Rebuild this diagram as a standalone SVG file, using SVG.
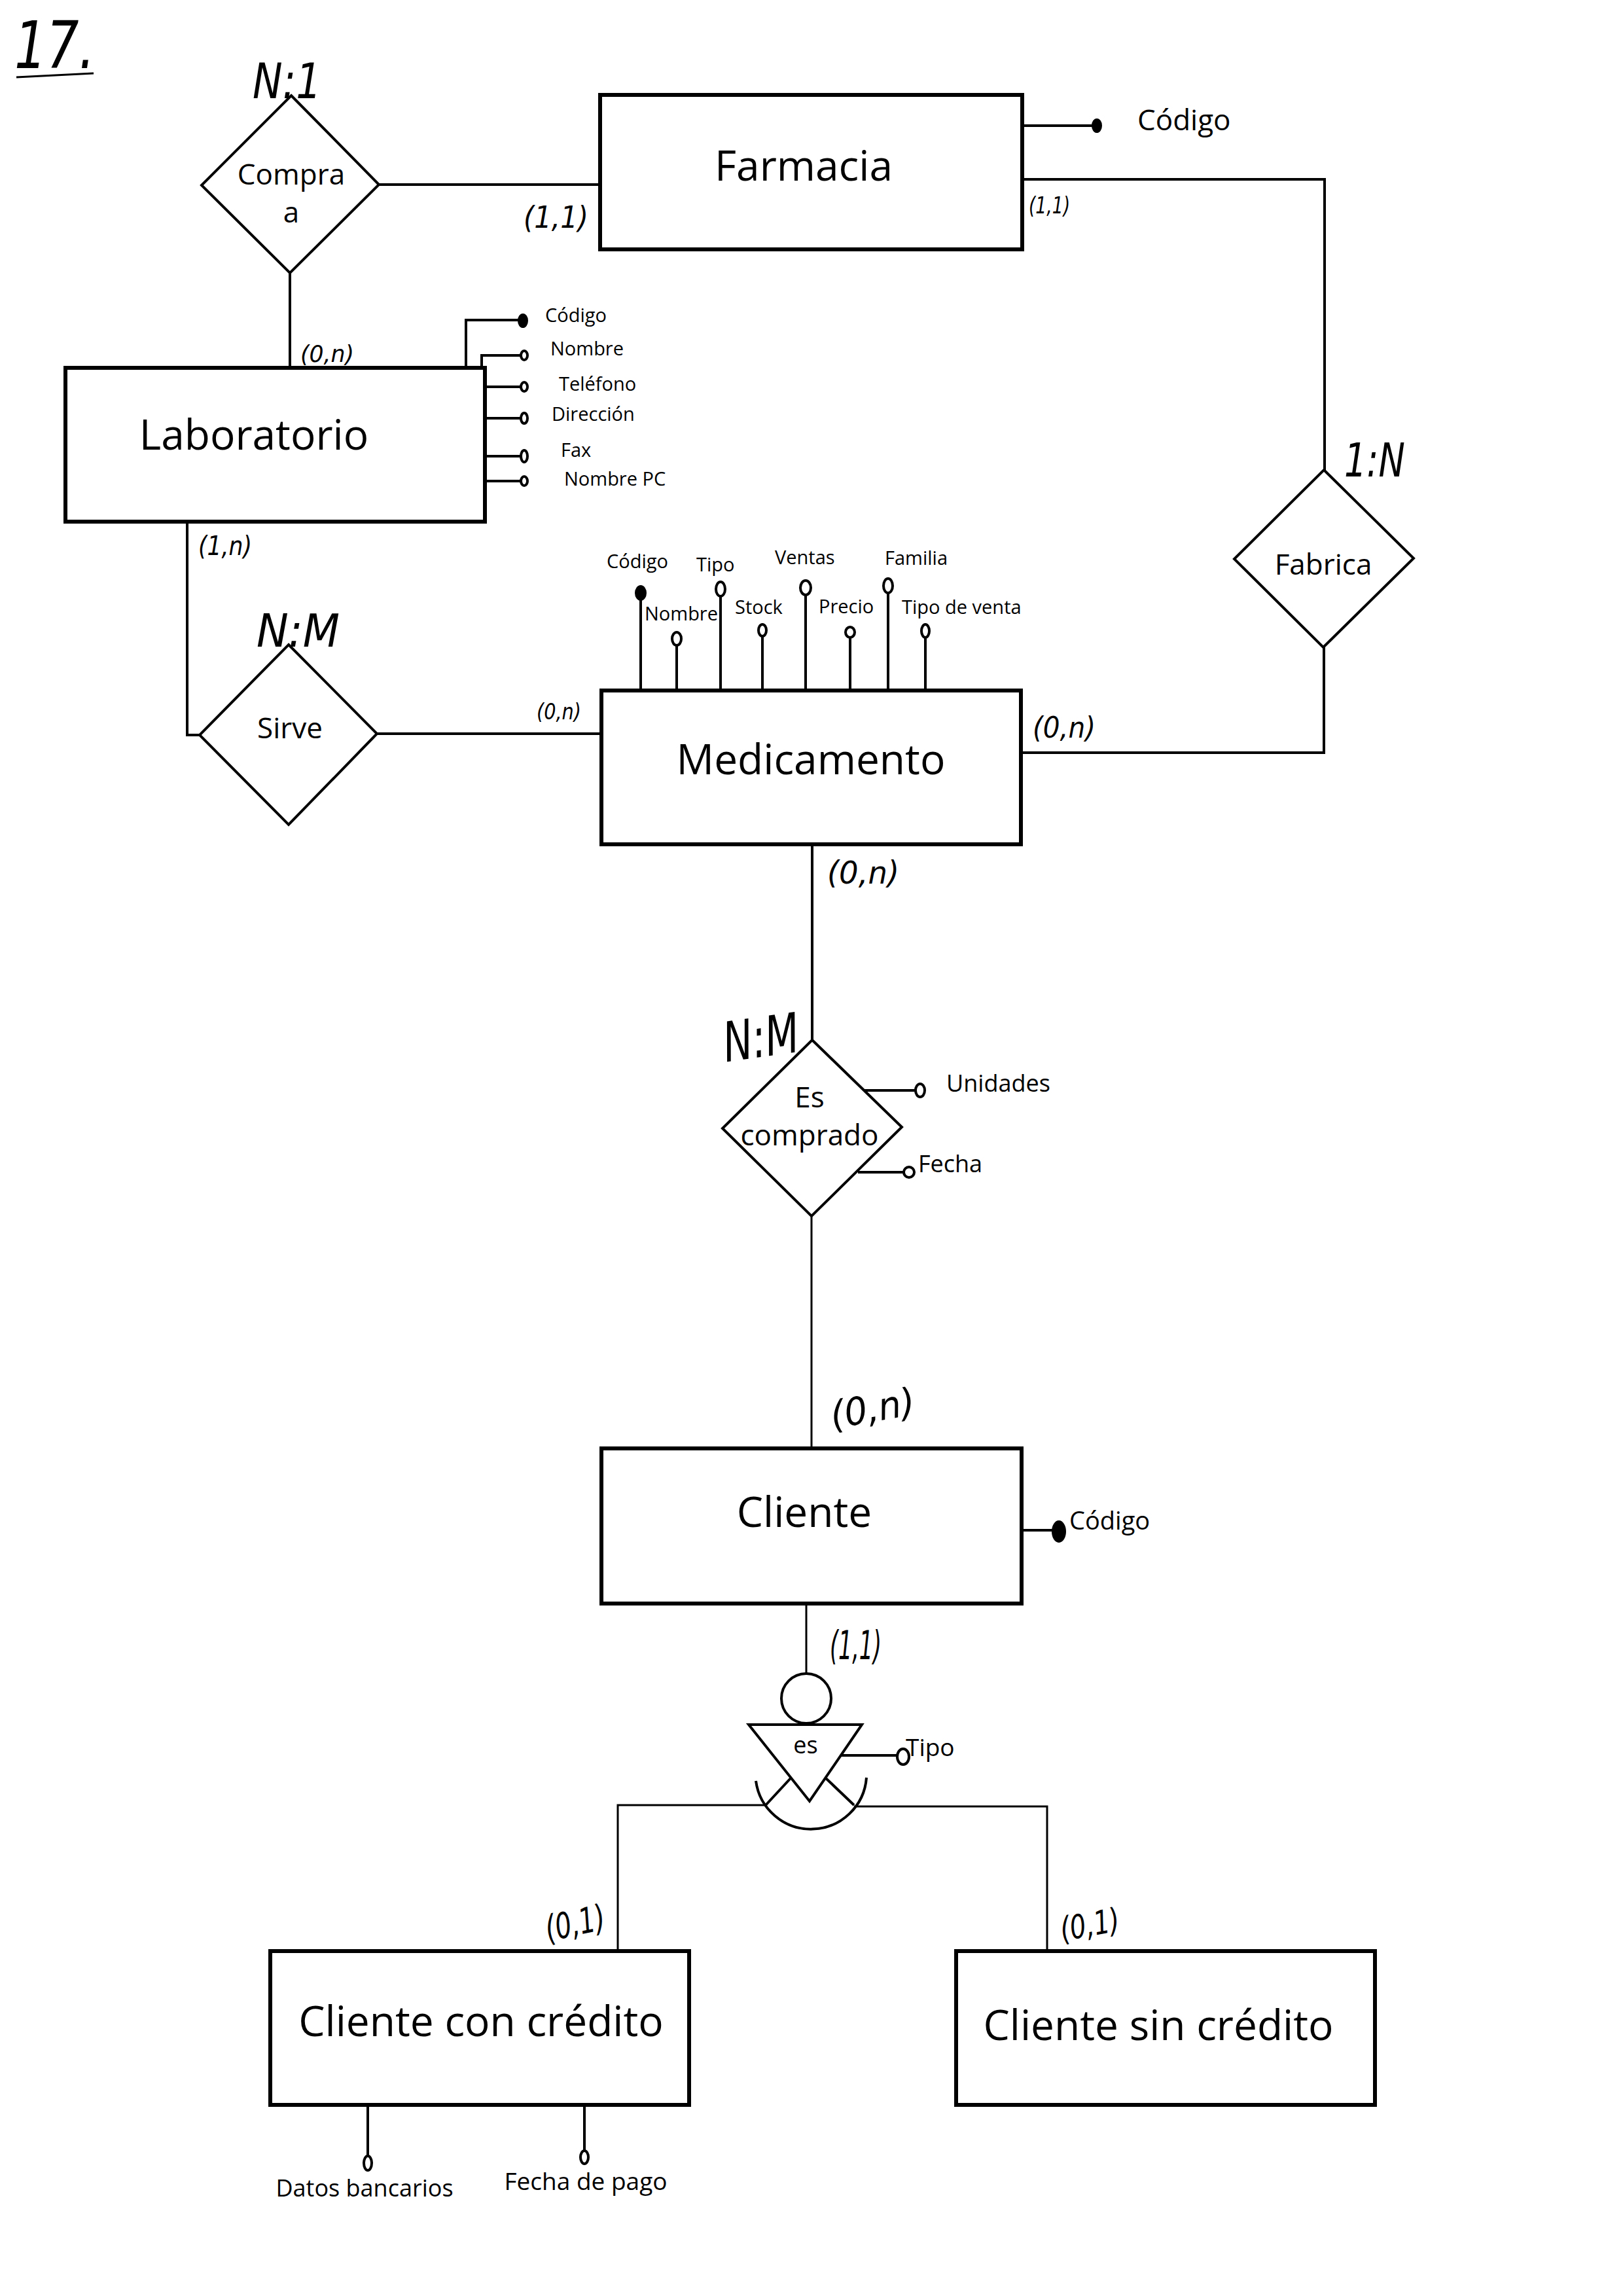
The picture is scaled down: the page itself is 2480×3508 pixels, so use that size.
<svg xmlns="http://www.w3.org/2000/svg" width="2480" height="3508" viewBox="0 0 2480 3508">
<style>
.bg{fill:#fff}
.ent{fill:none;stroke:#000;stroke-width:6;stroke-linejoin:miter}
.rel{fill:none;stroke:#000;stroke-width:4;stroke-linejoin:miter}
.con{fill:none;stroke:#000;stroke-width:4}
.thin{fill:none;stroke:#000;stroke-width:3}
.att{fill:none;stroke:#000;stroke-width:4}
.oc{fill:#fff;stroke:#000;stroke-width:4}
.fc{fill:#000;stroke:#000;stroke-width:2}
text{font-family:"Open Sans","Noto Sans","DejaVu Sans",sans-serif;fill:#000}
.en{font-size:64px;text-anchor:middle}
.rn{font-size:44px;text-anchor:middle}
.sa{font-size:29px}
.ma{font-size:36px}
.hand{font-family:"DejaVu Sans","Liberation Sans",sans-serif;font-style:italic;font-weight:300}
</style>
<rect class="bg" x="0" y="0" width="2480" height="3508"/>

<g id="title">
<text class="hand" x="22" y="104" font-size="100" textLength="123" lengthAdjust="spacingAndGlyphs">17.</text>
<path class="thin" d="M25,118 L143,112"/>
</g>

<g id="connectors">
<path class="con" d="M579,282 H917"/>
<path class="con" d="M443,417 V562"/>
<path class="con" d="M1562,274 H2024 V718"/>
<path class="con" d="M2023,989 V1150 H1560"/>
<path class="con" d="M286,797 V1123 H305"/>
<path class="con" d="M576,1121 H919"/>
<path class="con" d="M1241,1290 V1589"/>
<path class="thin" d="M1240,1858 V2213"/>
<path class="thin" d="M1232,2450 V2557"/>
<path class="thin" d="M1170,2758 H944 V2981"/>
<path class="thin" d="M1305,2760 H1600 V2981"/>
</g>

<g id="cardinalities">
<text class="hand" x="386" y="150" font-size="74" textLength="105" lengthAdjust="spacingAndGlyphs">N:1</text>
<text class="hand" x="800" y="348" font-size="46" textLength="99" lengthAdjust="spacingAndGlyphs">(1,1)</text>
<text class="hand" x="1572" y="326" font-size="36" textLength="63" lengthAdjust="spacingAndGlyphs">(1,1)</text>
<text class="hand" x="459" y="553" font-size="36" textLength="82" lengthAdjust="spacingAndGlyphs">(0,n)</text>
<text class="hand" x="303" y="848" font-size="40" textLength="82" lengthAdjust="spacingAndGlyphs">(1,n)</text>
<text class="hand" x="392" y="988" font-size="70" textLength="127" lengthAdjust="spacingAndGlyphs">N:M</text>
<text class="hand" x="820" y="1099" font-size="34" textLength="68" lengthAdjust="spacingAndGlyphs">(0,n)</text>
<text class="hand" x="2054" y="728" font-size="72" textLength="93" lengthAdjust="spacingAndGlyphs">1:N</text>
<text class="hand" x="1578" y="1127" font-size="44" textLength="96" lengthAdjust="spacingAndGlyphs">(0,n)</text>
<text class="hand" x="1264" y="1350" font-size="48" textLength="110" lengthAdjust="spacingAndGlyphs">(0,n)</text>
<text class="hand" x="1104" y="1615" font-size="84" textLength="116" lengthAdjust="spacingAndGlyphs" transform="rotate(-8 1160 1580)">N:M</text>
<text class="hand" x="1268" y="2172" font-size="58" textLength="130" lengthAdjust="spacingAndGlyphs" transform="rotate(-10 1333 2150)">(0,n)</text>
<text class="hand" x="1268" y="2535" font-size="60" textLength="79" lengthAdjust="spacingAndGlyphs">(1,1)</text>
<text class="hand" x="832" y="2957" font-size="54" textLength="92" lengthAdjust="spacingAndGlyphs" transform="rotate(-12 878 2935)">(0,1)</text>
<text class="hand" x="1619" y="2958" font-size="50" textLength="91" lengthAdjust="spacingAndGlyphs" transform="rotate(-10 1664 2937)">(0,1)</text>
</g>

<g id="farmacia">
<rect class="ent" x="917" y="145" width="645" height="236"/>
<text class="en" x="1228" y="276">Farmacia</text>
<path class="att" d="M1562,192 H1672"/>
<ellipse class="fc" cx="1676" cy="192" rx="7" ry="10"/>
<text x="1738" y="199" font-size="44">Código</text>
</g>

<g id="compra-a">
<polygon class="rel" points="445,146 579,282 443,417 308,283"/>
<text class="rn" x="445" y="282">Compra</text>
<text class="rn" x="445" y="340">a</text>
</g>

<g id="laboratorio">
<rect class="ent" x="100" y="562" width="641" height="235"/>
<text class="en" x="388" y="687">Laboratorio</text>
<path class="att" d="M712,562 V489 H795"/>
<ellipse class="fc" cx="799" cy="490" rx="7" ry="10"/>
<text class="sa" x="833" y="492">Código</text>
<path class="att" d="M736,562 V543 H796"/>
<ellipse class="oc" cx="801" cy="543" rx="5" ry="7"/>
<text class="sa" x="841" y="543">Nombre</text>
<path class="att" d="M741,591 H796"/>
<ellipse class="oc" cx="801" cy="591" rx="5" ry="7"/>
<text class="sa" x="854" y="597">Teléfono</text>
<path class="att" d="M741,639 H796"/>
<ellipse class="oc" cx="801" cy="639" rx="5" ry="8"/>
<text class="sa" x="843" y="643">Dirección</text>
<path class="att" d="M741,697 H796"/>
<ellipse class="oc" cx="801" cy="697" rx="5" ry="9"/>
<text class="sa" x="857" y="698">Fax</text>
<path class="att" d="M741,735 H796"/>
<ellipse class="oc" cx="801" cy="735" rx="5" ry="7"/>
<text class="sa" x="862" y="742">Nombre PC</text>
</g>

<g id="fabrica">
<polygon class="rel" points="2023,718 2160,853 2022,989 1886,854"/>
<text class="rn" x="2022" y="878">Fabrica</text>
</g>

<g id="sirve">
<polygon class="rel" points="441,985 576,1121 441,1260 305,1123"/>
<text class="rn" x="443" y="1128">Sirve</text>
</g>

<g id="medicamento">
<rect class="ent" x="919" y="1055" width="641" height="235"/>
<text class="en" x="1239" y="1183" font-size="66">Medicamento</text>
<path class="att" d="M979,1055 V915 M1034,1055 V986 M1101,1055 V911 M1165,1055 V972 M1231,1055 V909 M1299,1055 V974 M1357,1055 V906 M1414,1055 V974"/>
<ellipse class="fc" cx="979" cy="906" rx="8" ry="11"/>
<ellipse class="oc" cx="1034" cy="976" rx="7" ry="10"/>
<ellipse class="oc" cx="1101" cy="900" rx="7" ry="11"/>
<ellipse class="oc" cx="1165" cy="963" rx="6" ry="9"/>
<ellipse class="oc" cx="1231" cy="898" rx="8" ry="11"/>
<ellipse class="oc" cx="1299" cy="966" rx="7" ry="8"/>
<ellipse class="oc" cx="1357" cy="895" rx="7" ry="11"/>
<ellipse class="oc" cx="1414" cy="964" rx="6" ry="10"/>
<text class="sa" x="927" y="868">Código</text>
<text class="sa" x="985" y="948">Nombre</text>
<text class="sa" x="1064" y="873">Tipo</text>
<text class="sa" x="1123" y="938">Stock</text>
<text class="sa" x="1184" y="862">Ventas</text>
<text class="sa" x="1251" y="937">Precio</text>
<text class="sa" x="1352" y="863">Familia</text>
<text class="sa" x="1378" y="938">Tipo de venta</text>
</g>

<g id="es-comprado">
<polygon class="rel" points="1241,1589 1378,1722 1240,1858 1104,1724"/>
<text class="rn" x="1237" y="1692">Es</text>
<text class="rn" x="1237" y="1750">comprado</text>
<path class="att" d="M1320,1666 H1400"/>
<ellipse class="oc" cx="1406" cy="1666" rx="7" ry="10"/>
<text class="ma" x="1446" y="1668">Unidades</text>
<path class="att" d="M1311,1791 H1381"/>
<ellipse class="oc" cx="1389" cy="1791" rx="8" ry="8"/>
<text class="ma" x="1403" y="1791">Fecha</text>
</g>

<g id="cliente">
<rect class="ent" x="919" y="2213" width="642" height="237"/>
<text class="en" x="1229" y="2333" font-size="68">Cliente</text>
<path class="att" d="M1561,2338 H1610"/>
<ellipse class="fc" cx="1618" cy="2340" rx="10" ry="16"/>
<text x="1634" y="2337" font-size="38">Código</text>
</g>

<g id="es-generalizacion">
<circle class="rel" cx="1232" cy="2595" r="38"/>
<polygon class="rel" points="1144,2635 1317,2635 1237,2752"/>
<text x="1231" y="2679" font-size="36" text-anchor="middle">es</text>
<path class="rel" d="M1155,2721 A85,85 0 0 0 1324,2716"/>
<path class="rel" d="M1208,2717 L1170,2758 M1262,2717 L1305,2758"/>
<path class="att" d="M1285,2682 H1371"/>
<ellipse class="oc" cx="1380" cy="2684" rx="9" ry="12"/>
<text x="1384" y="2683" font-size="37">Tipo</text>
</g>

<g id="cliente-con-credito">
<rect class="ent" x="413" y="2981" width="640" height="235"/>
<text class="en" x="735" y="3111">Cliente con crédito</text>
<path class="att" d="M562,3216 V3293 M893,3216 V3285"/>
<ellipse class="oc" cx="562" cy="3305" rx="6" ry="11"/>
<ellipse class="oc" cx="893" cy="3296" rx="6" ry="10"/>
<text x="557" y="3356" font-size="36" text-anchor="middle">Datos bancarios</text>
<text x="895" y="3346" font-size="37" text-anchor="middle">Fecha de pago</text>
</g>

<g id="cliente-sin-credito">
<rect class="ent" x="1461" y="2981" width="640" height="235"/>
<text class="en" x="1770" y="3117">Cliente sin crédito</text>
</g>
</svg>
